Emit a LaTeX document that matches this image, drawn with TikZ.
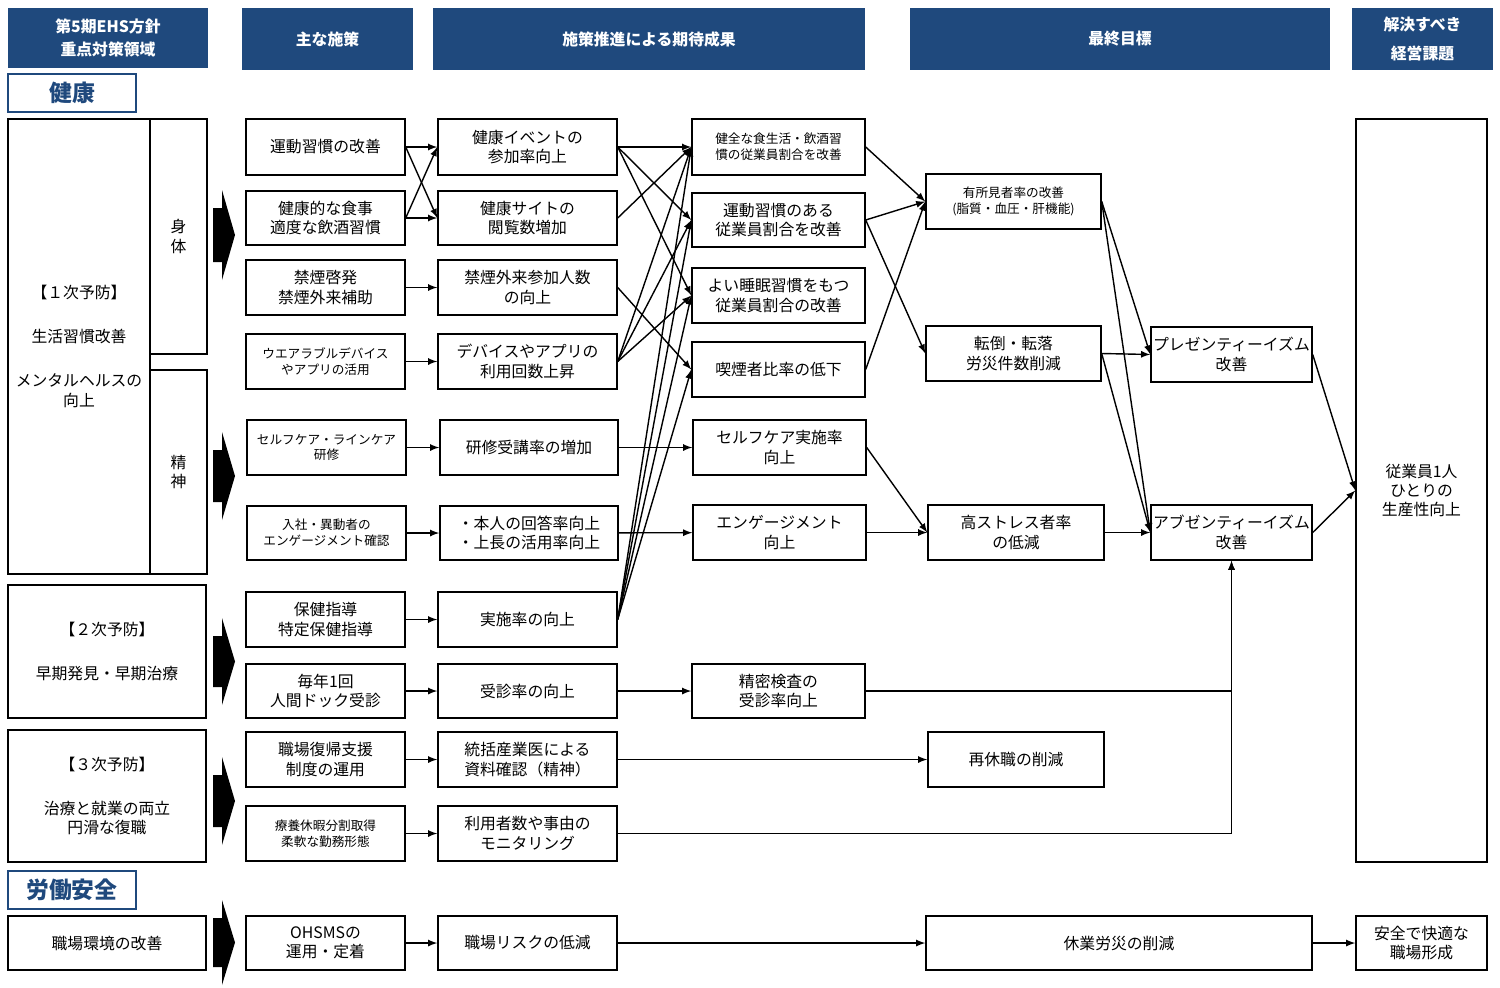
\documentclass[tikz,border=0pt]{standalone}
\usepackage{fontspec}
\setmainfont{Noto Sans CJK JP}
\usepackage{tikz}
\usetikzlibrary{arrows,positioning}
\definecolor{headblue}{RGB}{31,73,125}
\tikzset{
    >=latex,
    box/.style={
        rectangle,
        draw=black, thick,
        inner sep=0pt,
        align=center,
        font={\fontsize{9pt}{11pt}\selectfont}
    },
    small/.style={font={\fontsize{7.2pt}{9pt}\selectfont}},
    head/.style={
        box, draw=none, fill=headblue, text=white,
        font={\fontsize{9pt}{13pt}\selectfont\bfseries}
    },
    sect/.style={
        box, draw=headblue, very thick, text=headblue,
        font={\fontsize{13pt}{14pt}\selectfont\bfseries}
    },
    flow/.style={draw, thick, ->},
    bigarrow/.style={fill=black},
}
% box from corner (x1,y1) to (x2,y2), in pixels
\newcommand\bx[7]{%
  \node[box,#6,minimum width={#4*0.02cm-#2*0.02cm},minimum height={#5*0.02cm-#3*0.02cm}]
    (#1) at ({(#2+#4)/2},{(#3+#5)/2}) {#7};}
% fat arrow between areas
\newcommand\fat[2]{%
  \fill[bigarrow] (213,#1+18) -- (222,#1+18) -- (222,#1) -- (235,{(#1+#2)/2})
    -- (222,#2) -- (222,#2-18) -- (213,#2-18) -- cycle;}

\begin{document}
\begin{tikzpicture}[x=0.02cm, y=-0.02cm]
\useasboundingbox (0,0) rectangle (1500,987);

% headers
\bx{h1}{8}{8}{208}{68}{head}{第5期EHS方針\\重点対策領域}
\bx{h2}{242}{8}{413}{70}{head}{主な施策}
\bx{h3}{433}{8}{865}{70}{head}{施策推進による期待成果}
\bx{h4}{910}{8}{1330}{70}{head}{最終目標}
\bx{h5}{1352}{8}{1493}{70}{head}{解決すべき\\[4pt]経営課題}
\bx{s1}{8}{74}{136}{112}{sect}{健康}
\bx{s2}{8}{871}{136}{909}{sect}{労働安全}

% areas
\bx{a1}{8}{119}{150}{574}{}{【１次予防】\\[14pt]生活習慣改善\\[14pt]メンタルヘルスの\\向上}
\bx{a1b}{150}{119}{207}{354}{}{身\\体}
\bx{a1m}{150}{370}{207}{574}{}{精\\神}
\bx{a2}{8}{585}{206}{718}{}{【２次予防】\\[14pt]早期発見・早期治療}
\bx{a3}{8}{730}{206}{862}{}{【３次予防】\\[14pt]治療と就業の両立\\円滑な復職}
\bx{a4}{8}{916}{206}{970}{}{職場環境の改善}
\fat{190}{280}
\fat{432}{520}
\fat{618}{705}
\fat{757}{845}
\fat{900}{985}

% measures
\bx{b1}{246}{119}{405}{175}{}{運動習慣の改善}
\bx{b2}{246}{191}{405}{245}{}{健康的な食事\\適度な飲酒習慣}
\bx{b3}{246}{260}{405}{315}{}{禁煙啓発\\禁煙外来補助}
\bx{b4}{246}{334}{405}{389}{small}{ウエアラブルデバイス\\やアプリの活用}
\bx{b5}{247}{420}{406}{475}{small}{セルフケア・ラインケア\\研修}
\bx{b6}{247}{506}{406}{560}{small}{入社・異動者の\\エンゲージメント確認}
\bx{b7}{246}{592}{405}{647}{}{保健指導\\特定保健指導}
\bx{b8}{246}{664}{405}{718}{}{毎年1回\\人間ドック受診}
\bx{b9}{246}{732}{405}{787}{}{職場復帰支援\\制度の運用}
\bx{b10}{246}{806}{405}{861}{small}{療養休暇分割取得\\柔軟な勤務形態}
\bx{b11}{246}{916}{405}{970}{}{OHSMSの\\運用・定着}

% expected results
\bx{c1}{438}{119}{617}{175}{}{健康イベントの\\参加率向上}
\bx{c2}{438}{191}{617}{245}{}{健康サイトの\\閲覧数増加}
\bx{c3}{438}{260}{617}{315}{}{禁煙外来参加人数\\の向上}
\bx{c4}{438}{334}{617}{389}{}{デバイスやアプリの\\利用回数上昇}
\bx{c5}{440}{420}{618}{475}{}{研修受講率の増加}
\bx{c6}{440}{506}{618}{560}{}{・本人の回答率向上\\・上長の活用率向上}
\bx{c7}{438}{592}{617}{647}{}{実施率の向上}
\bx{c8}{438}{664}{617}{718}{}{受診率の向上}
\bx{c9}{438}{732}{617}{787}{}{統括産業医による\\資料確認（精神）}
\bx{c10}{438}{806}{617}{861}{}{利用者数や事由の\\モニタリング}
\bx{c11}{438}{916}{617}{970}{}{職場リスクの低減}

\bx{d1}{692}{119}{865}{175}{small}{健全な食生活・飲酒習\\慣の従業員割合を改善}
\bx{d2}{692}{193}{865}{247}{}{運動習慣のある\\従業員割合を改善}
\bx{d3}{692}{268}{865}{323}{}{よい睡眠習慣をもつ\\従業員割合の改善}
\bx{d4}{692}{342}{865}{397}{}{喫煙者比率の低下}
\bx{d5}{693}{420}{866}{475}{}{セルフケア実施率\\向上}
\bx{d6}{693}{505}{866}{560}{}{エンゲージメント\\向上}
\bx{d7}{692}{664}{865}{718}{}{精密検査の\\受診率向上}

% final targets
\bx{e1}{926}{174}{1101}{229}{small}{有所見者率の改善\\(脂質・血圧・肝機能)}
\bx{e2}{926}{326}{1101}{381}{}{転倒・転落\\労災件数削減}
\bx{e3}{928}{505}{1104}{560}{}{高ストレス者率\\の低減}
\bx{e4}{928}{732}{1104}{787}{}{再休職の削減}
\bx{e5}{926}{916}{1312}{970}{}{休業労災の削減}
\bx{f1}{1151}{327}{1312}{382}{}{プレゼンティーイズム\\改善}
\bx{f2}{1151}{505}{1312}{560}{}{アブゼンティーイズム\\改善}

% issues
\bx{g1}{1356}{119}{1487}{862}{}{従業員1人\\ひとりの\\生産性向上}
\bx{g2}{1356}{916}{1487}{970}{}{安全で快適な\\職場形成}

% connectors
\foreach \i in {3,...,11}
  \draw [flow] (b\i) -- (c\i);
\foreach \i in {1,2}
  \foreach \j in {1,2}
    \draw [flow] (b\i.east) -- (c\j.west);
\foreach \s/\t in {c1/d1,c1/d2,c1/d3,c2/d1,c3/d4,c4/d1,c4/d2,c4/d3,
                   c7/d1,c7/d2,c7/d3,c7/d4}
  \draw [flow] (\s.east) -- (\t.west);
\draw [flow] (c5) -- (d5);
\draw [flow] (c6) -- (d6);
\draw [flow] (c8) -- (d7);
\draw [flow] (c9) -- (e4);
\draw [flow] (c11) -- (e5);
\draw [flow] (e5) -- (g2);
\foreach \s/\t in {d1/e1,d2/e1,d2/e2,d4/e1,d5/e3,d6/e3,
                   e1/f1,e1/f2,e2/f1,e2/f2,e3/f2,f1/g1,f2/g1}
  \draw [flow] (\s.east) -- (\t.west);
\draw [flow] (d7.east) -| (f2.south);
\draw [flow] (c10.east) -| (f2.south);

\end{tikzpicture}
\end{document}
